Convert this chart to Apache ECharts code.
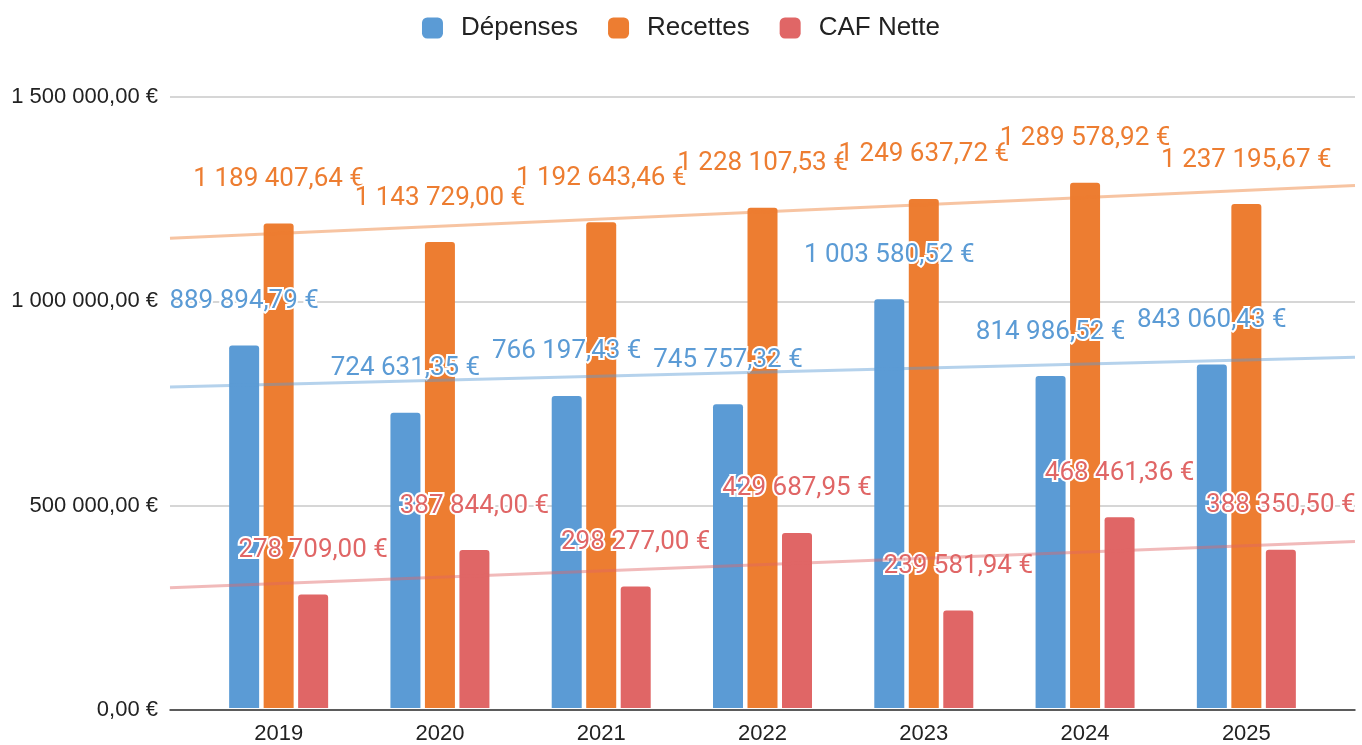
<!DOCTYPE html>
<html>
<head>
<meta charset="utf-8">
<script src="https://cdn.jsdelivr.net/npm/echarts@6/dist/echarts.min.js"></script>
<style>
  html, body { margin: 0; padding: 0; background: #fff; }
  #main { width: 1362px; height: 745px; }
</style>
</head>
<body>
<div id="main"></div>
<script>
var years = ['2019', '2020', '2021', '2022', '2023', '2024', '2025'];
var depenses = [889894.79, 724631.35, 766197.43, 745757.32, 1003580.52, 814986.52, 843060.43];
var recettes = [1189407.64, 1143729.00, 1192643.46, 1228107.53, 1249637.72, 1289578.92, 1237195.67];
var cafNette = [278709.00, 387844.00, 298277.00, 429687.95, 239581.94, 468461.36, 388350.50];
var yTicks = [0, 500000, 1000000, 1500000];

var colors = ['#5b9bd5', '#ed7d31', '#e06666'];
// the wide grid runs a bit past the first and last category
var xMin = -0.673, xMax = 6.673;

function fmt(v){
    var parts = Number(v).toFixed(2).split('.');
    return parts[0].replace(/\B(?=(\d{3})+(?!\d))/g, ' ') + ',' + parts[1] + ' €';
}

// least squares line over the category index, returned at the axis ends
function trend(values){
    var n = values.length, sx = 0, sy = 0, sxy = 0, sxx = 0;
    for(var i=0;i<n;i++){
        sx += i; sy += values[i]; sxy += i*values[i]; sxx += i*i;
    }
    var slope = (n*sxy - sx*sy)/(n*sxx - sx*sx);
    var icpt = (sy - slope*sx)/n;
    return [[xMin, icpt + slope*xMin], [xMax, icpt + slope*xMax]];
}

function barSeries(name, data, color){
    return {
        name: name,
        type: 'bar',
        xAxisIndex: 1,
        yAxisIndex: 1,
        barWidth: 30,
        barGap: '15%',
        z: 2,
        itemStyle: { color: color, borderRadius: [3, 3, 0, 0] },
        label: {
            show: true,
            position: 'top',
            distance: 31,
            formatter: function(p){ return fmt(p.value); },
            color: color,
            fontFamily: 'Roboto',
            fontSize: 26,
            textBorderColor: '#fff',
            textBorderWidth: 4
        },
        labelLayout: { hideOverlap: false },
        data: data
    };
}

function trendSeries(name, data, color){
    return {
        name: name,
        type: 'line',
        xAxisIndex: 0,
        yAxisIndex: 0,
        z: 3,
        silent: true,
        symbol: 'none',
        lineStyle: { color: color, width: 3, opacity: 0.45 },
        data: trend(data)
    };
}

var myChart = echarts.init(document.getElementById('main'));
var option = {
    backgroundColor: '#fff',
    animation: false,
    legend: {
        data: ['Dépenses', 'Recettes', 'CAF Nette'],
        top: 10,
        left: 'center',
        icon: 'roundRect',
        itemWidth: 21,
        itemHeight: 21,
        itemGap: 30,
        textStyle: {
            fontFamily: 'Liberation Sans',
            fontSize: 26,
            color: '#222',
            padding: [0, 0, 0, 13]
        }
    },
    grid: [
        { left: 170, right: 7, top: 97, bottom: 35 },
        { left: 198, right: 35, top: 97, bottom: 35 }
    ],
    xAxis: [
        {
            type: 'value', gridIndex: 0, min: xMin, max: xMax,
            axisLine: { show: true, lineStyle: { color: '#333', width: 1.5 } },
            axisTick: { show: false },
            axisLabel: { show: false },
            splitLine: { show: false }
        },
        {
            type: 'category', gridIndex: 1, data: years,
            axisLine: { show: false },
            axisTick: { show: false },
            axisLabel: {
                margin: 15,
                fontFamily: 'Liberation Sans',
                fontSize: 22,
                color: '#222'
            }
        }
    ],
    yAxis: [
        {
            type: 'value', gridIndex: 0, min: 0, max: yTicks[yTicks.length-1], interval: 500000,
            axisLine: { show: false },
            axisTick: { show: false },
            axisLabel: {
                margin: 12,
                fontFamily: 'Liberation Sans',
                fontSize: 22,
                color: '#222',
                formatter: function(v){ return fmt(v); }
            },
            splitLine: { lineStyle: { color: '#c8c8c8', width: 1.5 } }
        },
        {
            type: 'value', gridIndex: 1, min: 0, max: yTicks[yTicks.length-1], interval: 500000,
            show: false,
            splitLine: { show: false }
        }
    ],
    series: [
        barSeries('Dépenses', depenses, colors[0]),
        barSeries('Recettes', recettes, colors[1]),
        barSeries('CAF Nette', cafNette, colors[2]),
        trendSeries('Tendance Dépenses', depenses, colors[0]),
        trendSeries('Tendance Recettes', recettes, colors[1]),
        trendSeries('Tendance CAF Nette', cafNette, colors[2])
    ]
};
myChart.setOption(option);
</script>
</body>
</html>
